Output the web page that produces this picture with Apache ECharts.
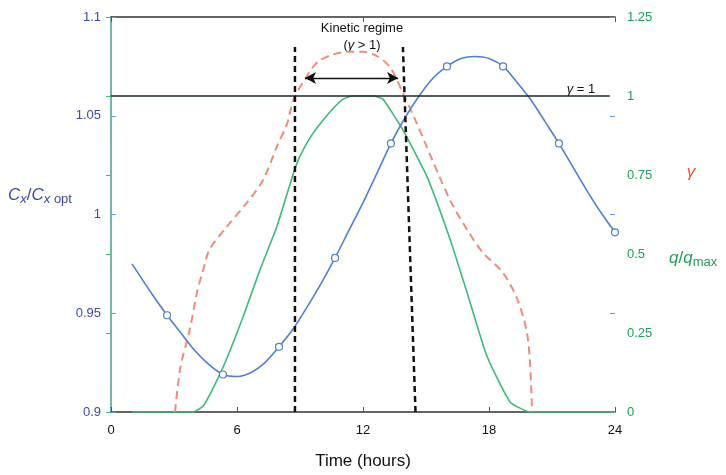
<!DOCTYPE html>
<html><head><meta charset="utf-8">
<script src="https://cdn.jsdelivr.net/npm/echarts@6/dist/echarts.min.js"></script>
<style>html,body{margin:0;padding:0;background:#fff}#c{width:726px;height:475px}</style>
</head><body><div id="c"></div>
<script>
// ---- data ----
const xTicks = [0, 6, 12, 18, 24];
const leftTicks = [0.9, 0.95, 1, 1.05, 1.1];
const rightTicks = [0, 0.25, 0.5, 0.75, 1, 1.25];

const cxTime  = [1, 2, 2.67, 3.33, 4, 4.67, 5.33, 6, 6.67, 7.33, 8, 8.67, 9.33, 10, 10.67, 11.33, 12, 12.67, 13.33, 14, 14.67, 15.33, 16, 16.67, 17.33, 18, 18.67, 19.33, 20, 20.67, 21.33, 22, 22.67, 23.33, 24];
const cxValue = [0.975, 0.959, 0.949, 0.940, 0.931, 0.924, 0.919, 0.918, 0.920, 0.925, 0.933, 0.942, 0.953, 0.965, 0.978, 0.992, 1.006, 1.021, 1.036, 1.049, 1.060, 1.069, 1.075, 1.079, 1.080, 1.079, 1.075, 1.067, 1.058, 1.047, 1.036, 1.024, 1.012, 1.001, 0.991];
const cxMarkerTimes = [2.67, 5.33, 8, 10.67, 13.33, 16, 18.67, 21.33, 24];

const gammaTime  = [3.05, 3.3, 3.75, 4.1, 4.35, 4.7, 5.5, 6.5, 7.25, 7.9, 8.4, 8.7, 9.3, 9.8, 10.5, 11.3, 12, 12.7, 13.3, 13.9, 14.55, 15.35, 16.15, 16.95, 17.7, 18.65, 19.35, 19.8, 19.95, 20.05];
const gammaValue = [0, 0.14, 0.26, 0.38, 0.44, 0.515, 0.585, 0.665, 0.735, 0.84, 0.915, 0.99, 1.06, 1.105, 1.13, 1.14, 1.14, 1.125, 1.09, 1.01, 0.915, 0.79, 0.67, 0.578, 0.505, 0.442, 0.357, 0.253, 0.158, 0];

const qTime  = [1, 3.9, 4.4, 4.9, 5.5, 6.3, 7.1, 7.9, 8.7, 9.0, 9.5, 10, 10.5, 11.05, 11.5, 12.5, 12.95, 13.6, 13.9, 14.4, 15.05, 16.15, 16.95, 17.9, 19.0, 19.95, 24];
const qValue = [0, 0, 0.02, 0.08, 0.167, 0.303, 0.451, 0.587, 0.758, 0.81, 0.87, 0.915, 0.955, 0.99, 1.0, 1.0, 0.99, 0.925, 0.893, 0.83, 0.745, 0.546, 0.379, 0.177, 0.032, 0, 0];

const gammaOneLine = [[0, 1], [23.75, 1]];
const regimeStart = [[8.76, 0], [8.76, 1.155]];
const regimeEnd   = [[14.5, 0], [13.9, 1.155]];
const regimeArrow = [[9.24, 1.057], [13.67, 1.057]];

// ---- chart ----
const FONT = '"Liberation Sans", Arial, sans-serif';
const BLUE = '#4f7fd2', BLUE_TXT = '#3c4aa6', RED = '#f08c7c', RED_TXT = '#ef5530', GREEN = '#3dba78', GREEN_TXT = '#1f9e58';
const zip = (a, b) => a.map((t, i) => [t, b[i]]);

const chart = echarts.init(document.getElementById('c'), null, {renderer: 'canvas'});
chart.setOption({
  animation: false,
  textStyle: {fontFamily: FONT},
  grid: {left: 111, right: 111, top: 17, bottom: 62, containLabel: false},
  xAxis: [{
    type: 'value', min: xTicks[0], max: xTicks[xTicks.length - 1], interval: 6,
    axisLine: {lineStyle: {color: '#333', width: 1.5}},
    axisTick: {inside: true, length: 5, lineStyle: {color: '#555'}},
    axisLabel: {color: '#111', fontSize: 13, margin: 12, fontFamily: FONT},
    splitLine: {show: false},
    name: 'Time (hours)', nameLocation: 'middle', nameGap: 41,
    nameTextStyle: {color: '#111', fontSize: 17, fontFamily: FONT}
  }, {
    type: 'value', position: 'top', min: 0, max: 24, interval: 12,
    axisLine: {lineStyle: {color: '#333', width: 1.5}},
    axisTick: {inside: true, length: 5, lineStyle: {color: '#555'}},
    axisLabel: {show: false}, splitLine: {show: false}
  }],
  yAxis: [{
    type: 'value', position: 'left', min: leftTicks[0], max: leftTicks[leftTicks.length - 1], interval: 0.05,
    axisLine: {show: true, lineStyle: {color: '#5a72d4', width: 1.5}},
    axisTick: {show: true, inside: true, length: 5, lineStyle: {color: '#6a9ae0'}},
    axisLabel: {color: BLUE_TXT, fontSize: 13, margin: 10, fontFamily: FONT},
    splitLine: {show: false}
  }, {
    type: 'value', position: 'right', min: rightTicks[0], max: rightTicks[rightTicks.length - 1], interval: 0.25,
    axisLine: {show: true, lineStyle: {color: '#63c79c', width: 1.5}},
    axisTick: {show: true, inside: true, length: 5, lineStyle: {color: '#3dba78'}},
    axisLabel: {color: GREEN_TXT, fontSize: 13, margin: 12, fontFamily: FONT},
    splitLine: {show: false}
  }, {
    type: 'value', position: 'right', min: 0.9, max: 1.1, interval: 0.05,
    axisLine: {show: false},
    axisTick: {show: true, inside: true, length: 5, lineStyle: {color: '#6a9ae0'}},
    axisLabel: {show: false}, splitLine: {show: false}
  }],
  series: [{
    name: 'q/qmax', type: 'line', yAxisIndex: 1, data: zip(qTime, qValue),
    showSymbol: false, smooth: 0.15, lineStyle: {color: GREEN, width: 1.6}, z: 3
  }, {
    name: 'gamma', type: 'line', yAxisIndex: 1, data: zip(gammaTime, gammaValue),
    showSymbol: false, smooth: 0.3, lineStyle: {color: RED, width: 2, type: [8, 5]}, z: 3
  }, {
    name: 'Cx/Cx opt', type: 'line', yAxisIndex: 0, data: zip(cxTime, cxValue),
    smooth: 0.3,
    symbol: (val) => cxMarkerTimes.includes(val[0]) ? 'circle' : 'none',
    symbolSize: 7, showAllSymbol: true,
    itemStyle: {color: '#fff', borderColor: BLUE, borderWidth: 1.2},
    lineStyle: {color: BLUE, width: 1.6}, z: 4
  }, {
    name: 'gamma=1', type: 'line', yAxisIndex: 1, data: gammaOneLine,
    showSymbol: false, lineStyle: {color: '#1e2a2a', width: 1.6}, z: 5,
    markLine: {
      silent: true, symbol: ['arrow', 'arrow'], symbolSize: [9, 11],
      lineStyle: {color: '#111', width: 1.3, type: 'solid'}, label: {show: false},
      data: [[{coord: regimeArrow[0]}, {coord: regimeArrow[1]}]]
    }
  }, {
    name: 'start', type: 'line', yAxisIndex: 1, data: regimeStart,
    showSymbol: false, lineStyle: {color: '#111', width: 2.5, type: [6, 4]}, z: 6
  }, {
    name: 'end', type: 'line', yAxisIndex: 1, data: regimeEnd,
    showSymbol: false, lineStyle: {color: '#111', width: 2.5, type: [6, 4]}, z: 6
  }],
  graphic: [{
    type: 'text', x: 362, y: 28,
    style: {text: 'Kinetic regime', font: '13px ' + FONT, fill: '#111', align: 'center', verticalAlign: 'middle'}
  }, {
    type: 'text', x: 362, y: 45,
    style: {
      text: '{n|(}{i|γ}{n| > 1)}', align: 'center', verticalAlign: 'middle',
      rich: {n: {font: '13px ' + FONT, fill: '#111'}, i: {font: 'italic 13px ' + FONT, fill: '#111'}}
    }
  }, {
    type: 'text', x: 581, y: 89,
    style: {
      text: '{i|γ}{n| = 1}', align: 'center', verticalAlign: 'middle',
      rich: {n: {font: '13px ' + FONT, fill: '#111'}, i: {font: 'italic 13px ' + FONT, fill: '#111'}}
    }
  }, {
    type: 'text', x: 8, y: 196,
    style: {
      text: '{i|C}{s|x}{n|/}{i|C}{s|x}{so| opt}', align: 'left', verticalAlign: 'middle',
      rich: {
        i: {font: 'italic 17px ' + FONT, fill: BLUE_TXT, lineHeight: 19, verticalAlign: 'top'},
        n: {font: '17px ' + FONT, fill: BLUE_TXT, lineHeight: 19, verticalAlign: 'top'},
        s: {font: 'italic 13px ' + FONT, fill: BLUE_TXT, lineHeight: 13, verticalAlign: 'bottom'},
        so: {font: '13px ' + FONT, fill: BLUE_TXT, lineHeight: 13, verticalAlign: 'bottom'}
      }
    }
  }, {
    type: 'text', x: 691, y: 172,
    style: {text: 'γ', font: 'italic 17px ' + FONT, fill: RED_TXT, align: 'center', verticalAlign: 'middle'}
  }, {
    type: 'text', x: 669, y: 259,
    style: {
      text: '{i|q}{n|/}{i|q}{s|max}', align: 'left', verticalAlign: 'middle',
      rich: {
        i: {font: 'italic 17px ' + FONT, fill: GREEN_TXT, lineHeight: 19, verticalAlign: 'top'},
        n: {font: '17px ' + FONT, fill: GREEN_TXT, lineHeight: 19, verticalAlign: 'top'},
        s: {font: '13px ' + FONT, fill: GREEN_TXT, lineHeight: 13, verticalAlign: 'bottom'}
      }
    }
  }]
});
</script></body></html>
